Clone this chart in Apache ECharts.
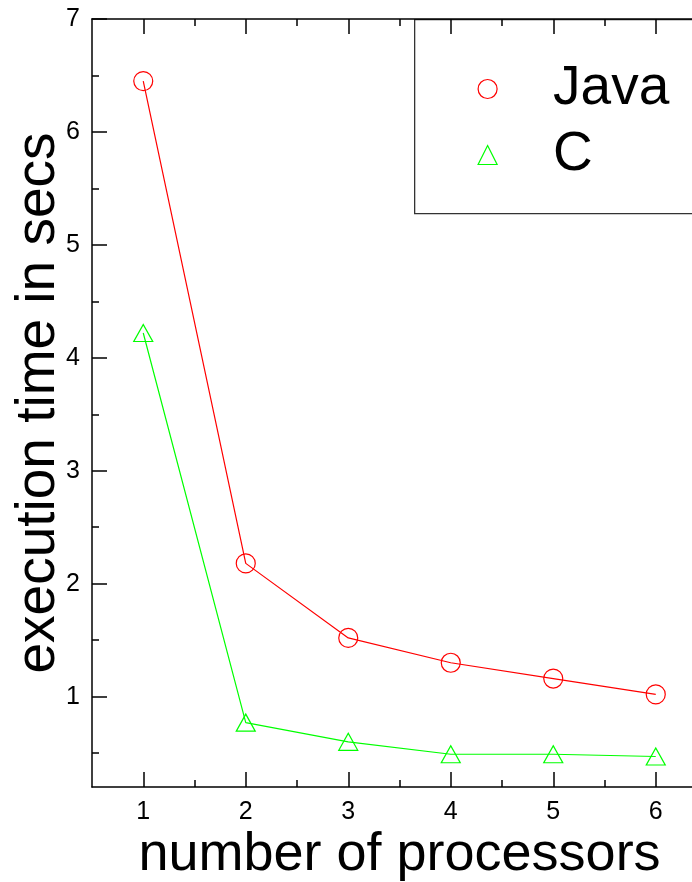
<!DOCTYPE html>
<html>
<head>
<meta charset="utf-8">
<style>html,body{margin:0;padding:0;background:#fff;}#c{width:692px;height:882px;}</style>
<script src="https://cdn.jsdelivr.net/npm/echarts@6/dist/echarts.min.js"></script>
</head>
<body>
<div id="c"></div>
<script>
var processors = [1, 2, 3, 4, 5, 6];
var javaTimes = [6.45, 2.18, 1.52, 1.30, 1.16, 1.02];
var cTimes = [4.22, 0.77, 0.60, 0.49, 0.49, 0.47];
var xMajorTicks = [1, 2, 3, 4, 5, 6];
var xMinorTicks = [1.5, 2.5, 3.5, 4.5, 5.5];
var yMajorTicks = [1, 2, 3, 4, 5, 6, 7];
var yMinorTicks = [0.5, 1.5, 2.5, 3.5, 4.5, 5.5, 6.5];

var FONT = 'Liberation Sans, Arial, Helvetica, sans-serif';
var chart = echarts.init(document.getElementById('c'), null, {renderer: 'canvas'});

function xAx(pos, ticks, len, showLine, showLabel, extra) {
  var o = {
    type: 'value', position: pos, min: 0.5, max: 6.5, gridIndex: 0,
    axisLine: {show: showLine, onZero: false, lineStyle: {color: '#000', width: 1.5}},
    axisTick: {show: true, inside: true, length: len, customValues: ticks, lineStyle: {color: '#000', width: 1.5}},
    axisLabel: {show: showLabel, customValues: ticks, fontSize: 25, color: '#000', fontFamily: FONT, margin: 13},
    splitLine: {show: false}
  };
  return Object.assign(o, extra || {});
}
function yAx(pos, ticks, len, showLine, showLabel, extra) {
  var o = {
    type: 'value', position: pos, min: 0.2, max: 7, gridIndex: 0,
    axisLine: {show: showLine, onZero: false, lineStyle: {color: '#000', width: 1.5}},
    axisTick: {show: true, inside: true, length: len, customValues: ticks, lineStyle: {color: '#000', width: 1.5}},
    axisLabel: {show: showLabel, customValues: ticks, fontSize: 25, color: '#000', fontFamily: FONT, margin: 12},
    splitLine: {show: false}
  };
  return Object.assign(o, extra || {});
}

var option = {
  backgroundColor: '#fff',
  animation: false,
  grid: {left: 92, top: 19, width: 615, height: 768, containLabel: false, outerBoundsMode: 'none'},
  xAxis: [
    xAx('bottom', xMajorTicks, 15, true, true, {
      name: 'number of processors', nameLocation: 'middle', nameGap: 41, nameMoveOverlap: false,
      nameTextStyle: {fontSize: 54, color: '#000', fontFamily: FONT}
    }),
    xAx('bottom', xMinorTicks, 7, false, false),
    xAx('top', xMajorTicks, 15, true, false),
    xAx('top', xMinorTicks, 7, false, false)
  ],
  yAxis: [
    yAx('left', yMajorTicks, 15, true, true, {
      name: 'execution time in secs', nameLocation: 'middle', nameGap: 26, nameMoveOverlap: false,
      nameTextStyle: {fontSize: 55, color: '#000', fontFamily: FONT}
    }),
    yAx('left', yMinorTicks, 7, false, false),
    yAx('right', yMajorTicks, 15, true, false),
    yAx('right', yMinorTicks, 7, false, false)
  ],
  legend: {
    orient: 'vertical', left: 477.5, top: 61, padding: 0,
    itemWidth: 19, itemHeight: 19, itemGap: 10,
    textStyle: {fontSize: 55, color: '#000', fontFamily: FONT, lineHeight: 56, padding: [0, 0, 0, 51]},
    data: [
      {name: 'Java', icon: 'circle', itemStyle: {color: 'rgba(0,0,0,0)', borderColor: '#ff0000', borderWidth: 1.2}},
      {name: 'C', icon: 'triangle', itemStyle: {color: 'rgba(0,0,0,0)', borderColor: '#00ff00', borderWidth: 1.2}}
    ]
  },
  graphic: [{
    type: 'rect', z: -1, left: 414, top: 19,
    shape: {x: 0, y: 0, width: 400, height: 194},
    style: {fill: '#fff', stroke: '#333', lineWidth: 1.3}
  }],
  series: [
    {
      name: 'Java', type: 'line', xAxisIndex: 0, yAxisIndex: 0,
      data: processors.map(function (p, i) { return [p, javaTimes[i]]; }),
      symbol: 'circle', symbolSize: 19,
      lineStyle: {color: '#ff0000', width: 1.2},
      itemStyle: {color: 'rgba(0,0,0,0)', borderColor: '#ff0000', borderWidth: 1.2}
    },
    {
      name: 'C', type: 'line', xAxisIndex: 0, yAxisIndex: 0,
      data: processors.map(function (p, i) { return [p, cTimes[i]]; }),
      symbol: 'triangle', symbolSize: [19, 17],
      lineStyle: {color: '#00ff00', width: 1.2},
      itemStyle: {color: 'rgba(0,0,0,0)', borderColor: '#00ff00', borderWidth: 1.2}
    }
  ]
};
chart.setOption(option);
</script>
</body>
</html>
